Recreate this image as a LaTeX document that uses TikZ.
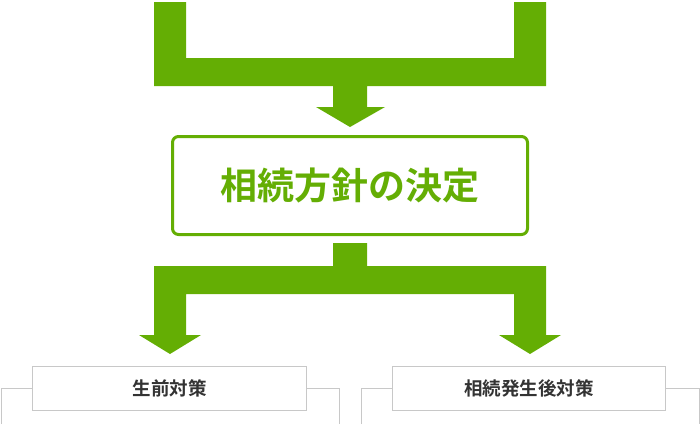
\documentclass[tikz,border=0pt]{standalone}
\usepackage{fontspec}
\setmainfont{Noto Sans CJK JP}[BoldFont={Noto Sans CJK JP Bold}]
\definecolor{leaf}{RGB}{100,174,4}
\definecolor{frame}{RGB}{200,200,200}
\definecolor{ink}{RGB}{51,51,51}
\tikzset{
	mainbox/.style = {draw = leaf, line width = 3pt, rounded corners = 6pt, fill = white,
		inner sep = 0pt, minimum width = 355pt, minimum height = 98pt,
		text = leaf, font = \bfseries\fontsize{37}{42}\selectfont},
	subbox/.style = {draw = frame, line width = 1pt, fill = white, inner sep = 0pt,
		minimum height = 44pt, text = ink, font = \bfseries\fontsize{18.5}{22}\selectfont}
}
\begin{document}
\begin{tikzpicture}[x = 1pt, y = -1pt]
		\useasboundingbox (0, 0) rectangle (700, 424);
		% upper bracket and arrow
		\fill[leaf] (154, 2) -- (186, 2) -- (186, 58) -- (514, 58) -- (514, 2) -- (546, 2) -- (546, 86)
			-- (367, 86) -- (367, 107) -- (385, 107) -- (350, 127) -- (316, 107) -- (333, 107) -- (333, 86)
			-- (154, 86) -- cycle;
		\node[mainbox] (decide) at (350, 185.5) {相続方針の決定};
		% lower split arrows
		\fill[leaf] (333, 243) -- (367, 243) -- (367, 266) -- (546, 266) -- (546, 335) -- (561, 335)
			-- (530, 354) -- (499, 335) -- (514, 335) -- (514, 294) -- (186, 294) -- (186, 335)
			-- (201, 335) -- (170, 354) -- (139, 335) -- (154, 335) -- (154, 266) -- (333, 266) -- cycle;
		%%%%%%%%%
		\draw[frame, line width = 1pt] (1, 424) -- (1, 388) -- (339, 388) -- (339, 424);
		\draw[frame, line width = 1pt] (361, 424) -- (361, 388) -- (699, 388) -- (699, 424);
		\node[subbox, minimum width = 274pt] (before) at (169.5, 388.5) {生前対策};
		\node[subbox, minimum width = 273pt] (after) at (529, 388.5) {相続発生後対策};
	\end{tikzpicture}
\end{document}
